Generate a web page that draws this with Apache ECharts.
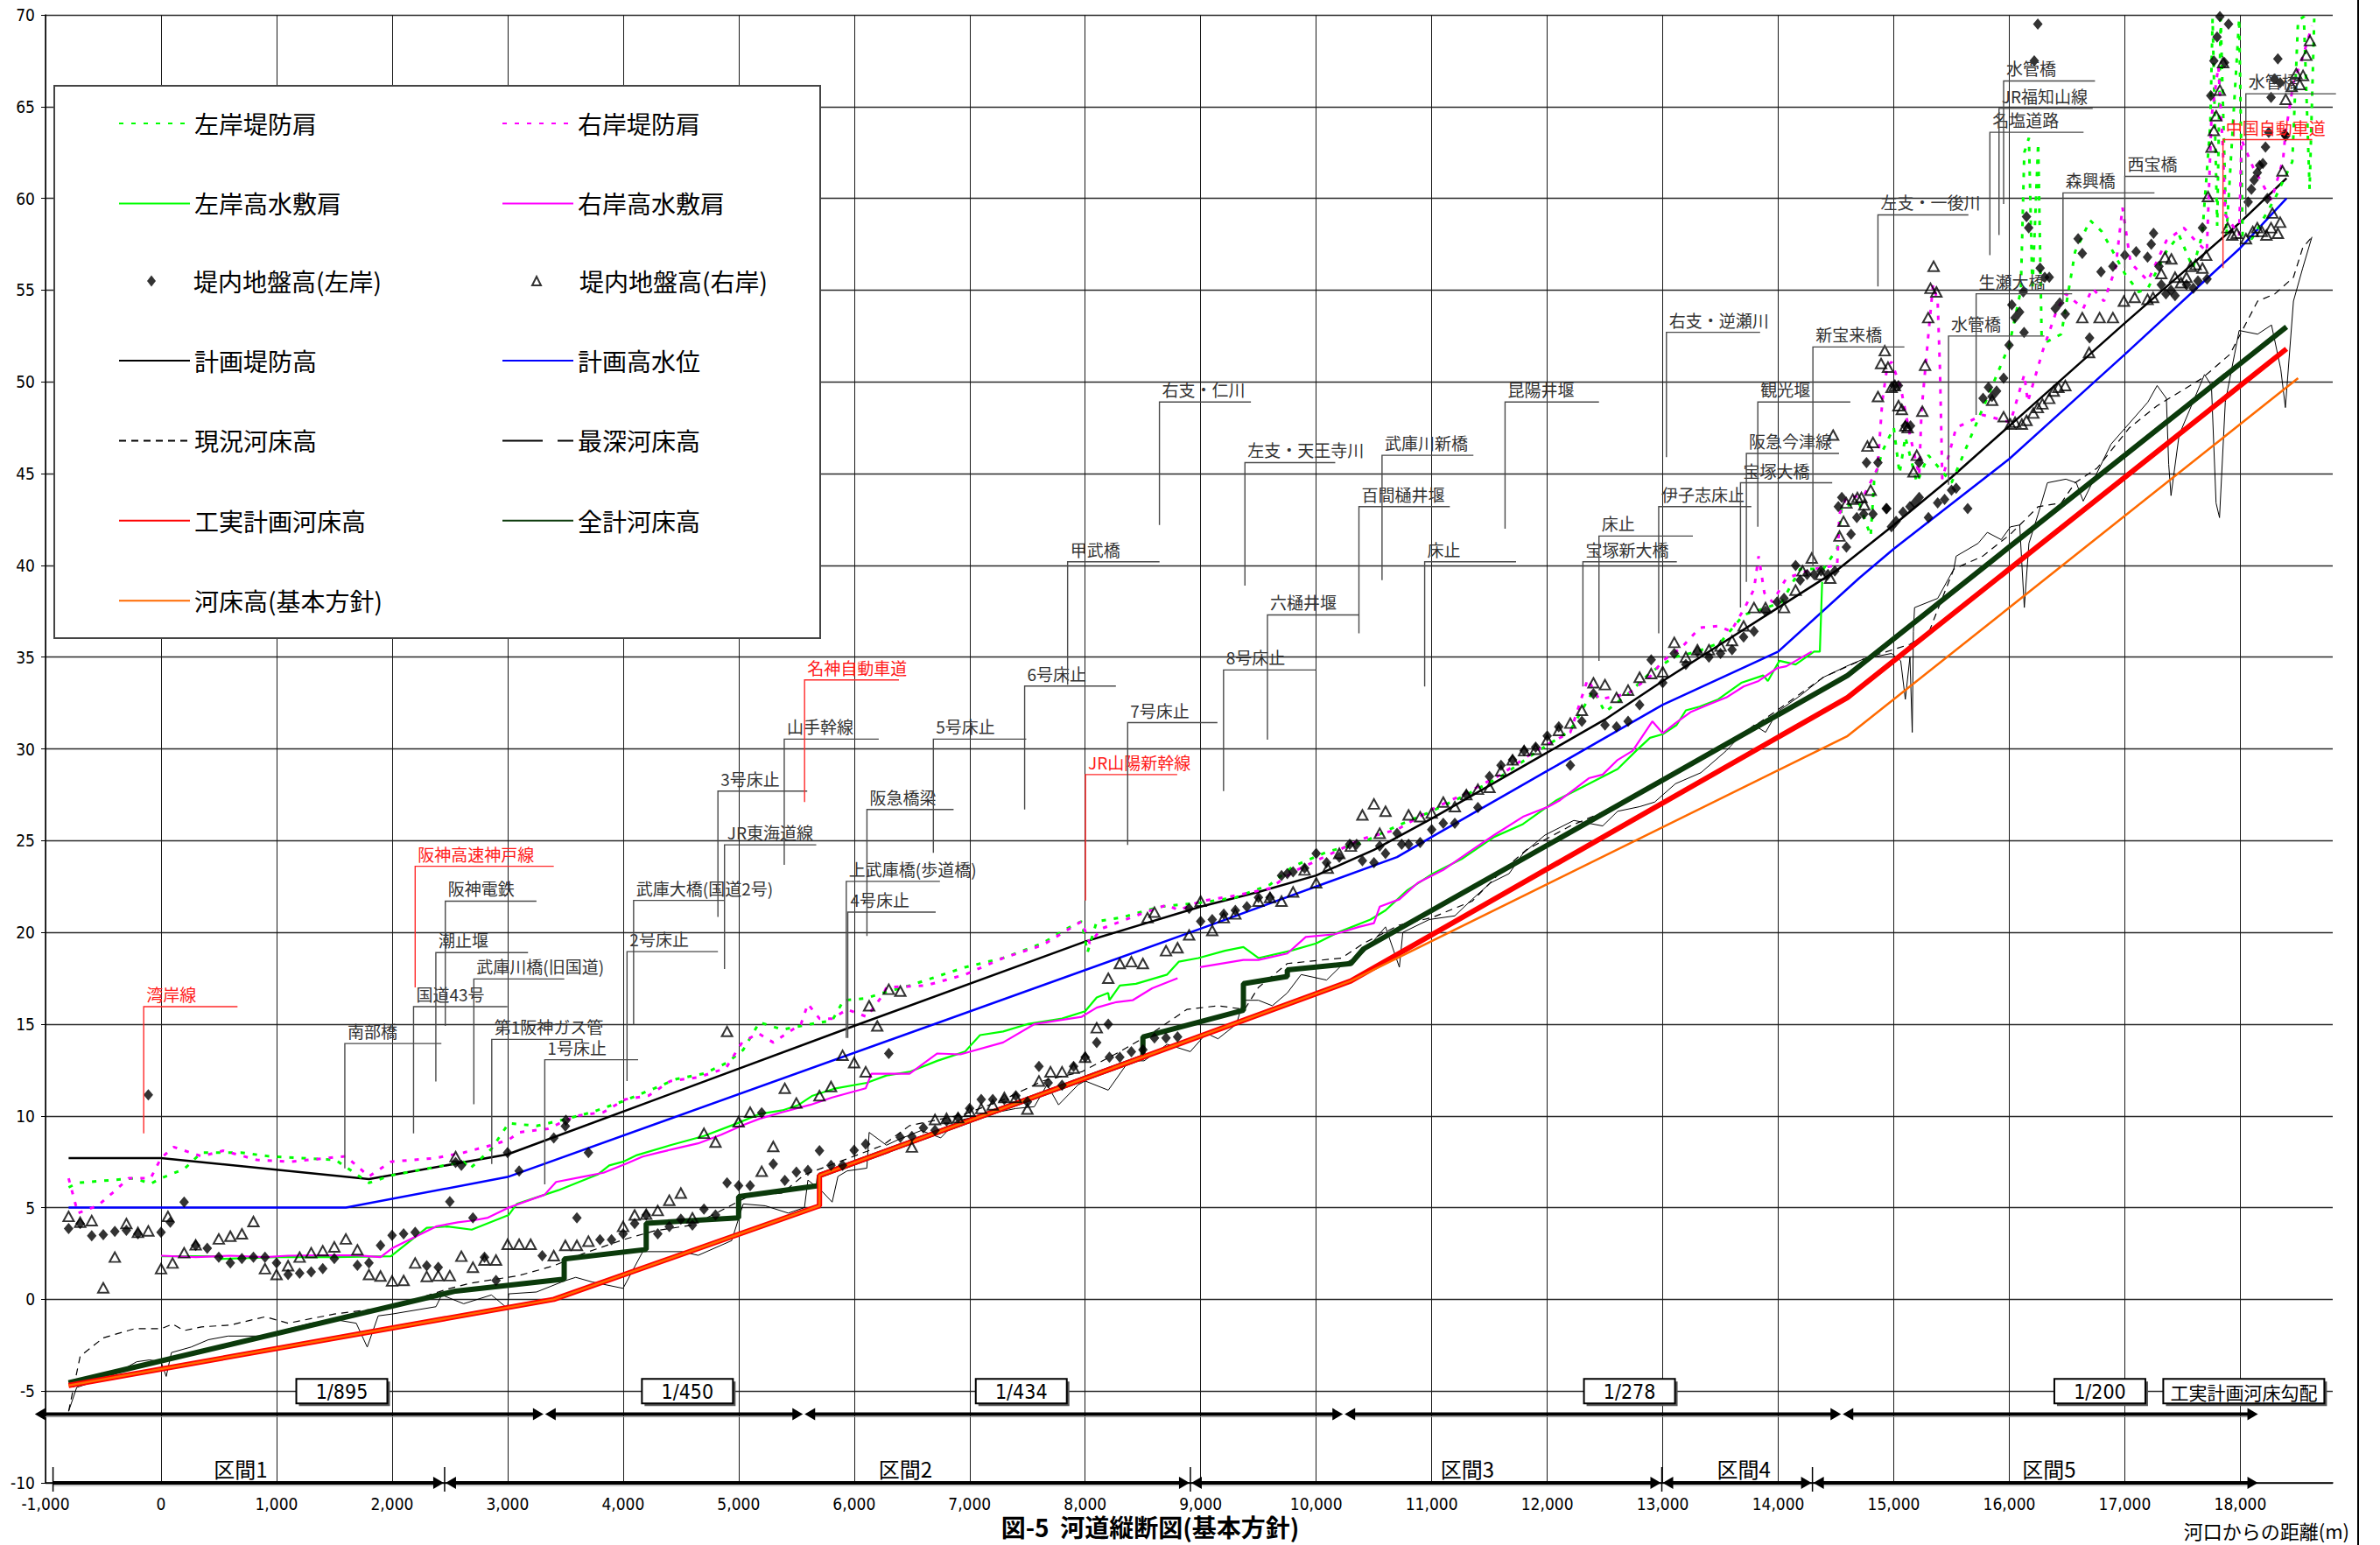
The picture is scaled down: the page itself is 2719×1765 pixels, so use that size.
<!DOCTYPE html>
<html>
<head>
<meta charset="utf-8">
<title>河道縦断図(基本方針)</title>
<script src="https://cdn.jsdelivr.net/npm/echarts@6/dist/echarts.min.js"></script>
<style>
  html, body { margin: 0; padding: 0; background: #fff; }
  #chart { width: 2719px; height: 1765px; }
</style>
</head>
<body>
<div id="chart"></div>
<script>
// ---- axis ticks ----
const xMin = -1000, xMax = 18800, xStep = 1000;
const yMin = -10, yMax = 70, yStep = 5;

// ---- 計画堤防高 ----
const planLevee = [[-800,7.7],[0,7.7],[1800,6.55],[3000,7.9],[6000,14.9],[8000,19.5],[9000,21.4],[9500,22.2],[10000,23.1],[10500,24.5],[11000,26.2],[11500,28.0],[12000,29.8],[12500,31.6],[13000,33.7],[13500,35.7],[14000,37.7],[14500,39.7],[15000,42.2],[15500,44.8],[16000,47.6],[17000,53.2],[18000,58.7],[18400,61.1]];

// ---- 計画高水位 ----
const planHWL = [[-800,5],[1600,5],[3000,6.67],[9000,20.2],[10000,22.5],[10700,24.1],[11000,25.2],[12000,28.8],[13000,32.4],[14000,35.3],[14700,39.3],[15000,40.9],[16000,45.8],[17000,51.5],[18000,57.3],[18400,60.0]];

// ---- 工実計画河床高 ----
const koujitsuBed = [[-800,-4.69],[3400,0],[5700,5.1],[5700,6.75],[10300,17.35],[14600,32.8],[18400,51.8]];

// ---- 河床高(基本方針) ----
const kihonBed = [[-800,-4.69],[3400,0],[5700,5.1],[5700,6.75],[10300,17.35],[14600,30.7],[18500,50.2]];

// ---- 全計河床高 ----
const zenkeiBed = [[-800,-4.55],[2550,0.45],[3490,1.1],[3490,2.2],[4200,2.72],[4200,4.15],[5000,4.44],[5000,5.6],[5690,6.2],[5700,6.75],[8500,13.2],[8500,14.3],[9370,15.75],[9370,17.2],[9750,17.6],[9750,17.95],[10300,18.3],[10410,19.1],[13000,28.3],[14600,34.0],[18400,53.0]];

// ---- 現況河床高 ----
const currentBed = [[-800,-6.1],[-700,-3.1],[-500,-2.1],[-230,-1.6],[0,-1.6],[100,-1.35],[200,-1.7],[350,-1.5],[600,-1.4],[900,-0.95],[1100,-1.3],[1500,-0.8],[2000,-0.4],[2480,0.56],[2670,0.87],[2860,1.06],[3100,1.3],[3400,1.83],[3640,2.46],[4000,3.25],[4270,3.73],[4600,4.05],[4800,4.68],[5090,5.63],[5380,5.8],[5570,6.8],[5940,7.66],[6250,8.4],[6480,9.47],[6960,10.1],[7300,10.9],[7630,11.9],[7970,12.4],[8300,13.5],[8600,14.6],[8880,15.8],[9150,16.0],[9380,15.8],[9500,17.0],[9750,18.3],[10220,18.6],[10410,19.4],[10720,20.4],[11000,20.8],[11350,21.7],[11600,23.3],[11820,24.5],[12200,25.8],[12610,26.9],[13080,28.5],[13600,30.4],[13990,32.1],[14390,33.9],[14740,34.9],[15140,35.7],[15300,36.3],[15520,39.8],[15770,40.5],[16010,41.7],[16250,43.2],[16450,43.4],[16570,44.5],[16760,45.3],[17040,47.5],[17280,48.7],[17670,50.2],[17910,51.5],[18000,52.6],[18150,54.4],[18300,54.8],[18460,55.7],[18540,57.3],[18620,57.9]];

// ---- 最深河床高 ----
const deepestBed = [[-800,-6.1],[-730,-4.8],[-440,-4.2],[-210,-3.4],[-100,-3.3],[0,-3.4],[45,-4.2],[90,-2.9],[260,-2.6],[410,-2.2],[580,-2.0],[870,-2.0],[1010,-1.8],[1110,-1.6],[1300,-1.3],[1500,-1.1],[1690,-1.3],[1785,-2.6],[1880,-0.9],[2000,-0.8],[2380,-0.4],[2430,0.24],[2620,-0.24],[2860,0.24],[3000,-0.5],[3010,0.3],[3250,0.4],[3490,1.0],[3590,1.2],[3730,0.95],[4000,0.6],[4170,2.6],[4510,2.6],[4650,2.4],[4940,3.2],[5040,5.2],[5230,5.1],[5430,4.7],[5570,5.0],[5600,6.5],[5720,5.9],[5810,5.3],[5860,6.7],[5940,7.0],[6110,7.15],[6130,9.1],[6280,8.4],[6380,8.7],[6580,9.2],[6750,8.8],[6890,9.73],[7160,10.1],[7400,10.4],[7560,10.5],[7670,11.7],[7770,10.6],[7940,11.7],[8000,11.9],[8200,11.4],[8380,13.0],[8510,13.0],[8710,13.9],[8910,13.5],[9050,14.5],[9150,14.2],[9310,15.0],[9370,16.3],[9500,16.3],[9620,16.0],[9750,16.7],[9870,17.7],[10090,17.4],[10220,18.2],[10410,18.9],[10600,20.3],[10720,18.1],[10750,20.0],[10980,20.7],[11200,20.9],[11350,21.8],[11510,22.7],[11670,23.2],[11790,24.3],[11980,25.3],[12230,26.1],[12480,25.8],[12610,26.6],[12800,26.85],[12930,27.1],[13110,28.1],[13330,28.7],[13550,29.9],[13670,30.7],[13790,31.3],[13890,30.9],[13990,32.0],[14190,32.9],[14390,33.9],[14590,34.5],[14740,34.9],[14980,35.2],[15060,34.8],[15100,32.7],[15140,35.0],[15160,30.9],[15170,36.4],[15180,37.7],[15380,38.2],[15520,39.8],[15540,40.5],[15730,41.2],[15810,41.8],[15930,41.4],[16010,42.1],[16090,42.2],[16130,37.7],[16170,41.2],[16250,42.8],[16330,44.5],[16490,44.7],[16580,44.5],[16640,43.5],[16880,46.6],[17200,48.9],[17280,49.8],[17360,49.1],[17380,45.5],[17400,43.8],[17470,47.1],[17690,50.4],[17750,49.8],[17790,43.4],[17820,42.6],[17870,48.9],[17950,51.5],[17990,52.8],[18150,52.6],[18270,53.1],[18350,50.7],[18390,48.6],[18460,54.4],[18540,56.2],[18620,57.9]];

// ---- 左岸高水敷肩 ----
const leftBerm = [[0,2.35],[500,2.35],[520,2.2],[1000,2.3],[1500,2.3],[1990,2.35],[2300,3.9],[2480,3.97],[2690,3.8],[3010,4.6],[3080,5.2],[3440,5.95],[3780,6.8],[3880,7.3],[4000,7.5],[4120,7.86],[4410,8.4],[4700,8.9],[4990,9.6],[5180,10.1],[5380,10.3],[5520,10.6],[5640,11.1],[5840,11.5],[6110,11.8],[6280,12.2],[6480,12.4],[6720,13.0],[6960,13.5],[7090,14.4],[7290,14.6],[7500,15.0],[7800,15.3],[8000,15.7],[8100,16.45],[8200,16.7],[8210,16.3],[8300,17.1],[8440,17.2],[8710,17.7],[8810,18.4],[8980,18.6],[9210,19.0],[9370,19.2],[9500,18.6],[9780,19.0],[10000,19.4],[10190,20.0],[10470,20.7],[10600,21.2],[10790,22.3],[11010,23.2],[11260,24.0],[11540,25.2],[11790,25.9],[12080,27.2],[12300,27.9],[12610,28.9],[12770,29.9],[12890,30.6],[13000,30.8],[13120,31.3],[13200,32.1],[13320,32.3],[13480,32.7],[13680,33.6],[13870,34.0],[13910,33.7],[14010,34.8],[14150,34.6],[14310,35.3],[14360,35.3],[14380,39.1]];

// ---- 右岸高水敷肩 ----
const rightBerm = [[0,2.38],[300,2.3],[600,2.38],[900,2.3],[1100,2.38],[1400,2.4],[1700,2.4],[1900,2.3],[2000,2.78],[2380,3.97],[2570,4.2],[2700,4.3],[2830,4.45],[3010,5.0],[3320,5.7],[3420,6.4],[3640,6.67],[3830,6.9],[4020,7.38],[4170,7.78],[4310,8.0],[4510,8.3],[4650,8.5],[4850,8.97],[5040,9.5],[5180,9.84],[5380,10.2],[5620,10.6],[5810,11.0],[6100,11.5],[6150,12.3],[6480,12.3],[6720,13.4],[6920,13.35],[7290,14.0],[7560,15.0],[7970,15.4],[8100,15.9],[8270,16.2],[8410,16.3],[8580,16.95],[8800,17.5],[8900,null],[8994,18.1],[9370,18.5],[9500,18.5],[9750,18.85],[9910,19.75],[10160,19.9],[10370,20.3],[10500,20.5],[10550,21.4],[10720,21.8],[10880,22.7],[11100,23.4],[11350,24.5],[11540,25.3],[11790,26.3],[12010,26.85],[12110,27.2],[12360,28.4],[12480,28.6],[12610,29.4],[12740,29.9],[12910,31.5],[13000,30.85],[13110,31.4],[13240,32.0],[13390,32.4],[13550,32.8],[13700,33.4],[13830,33.7],[13990,34.4],[14070,34.5],[14290,35.3]];

// ---- 左岸堤防肩 ----
const leftLevee = [[-800,6.1],[-720,6.35],[-230,6.6],[-90,6.3],[0,6.6],[200,7.1],[350,8.0],[690,8.0],[930,7.8],[1510,7.6],[1800,6.35],[1990,6.75],[2280,7.1],[2620,7.5],[2670,7.1],[2860,8.2],[3010,9.6],[3250,9.45],[3490,9.8],[3730,10.2],[4000,10.8],[4270,11.5],[4460,12.0],[4700,12.3],[4900,12.9],[5040,13.6],[5180,15.1],[5380,14.7],[5620,15.0],[5810,15.2],[5910,16.3],[6100,16.4],[6250,16.7],[6480,17.1],[6960,18.1],[7290,18.6],[7630,19.4],[7840,20.2],[7970,20.6],[8020,18.9],[8100,20.6],[8310,20.8],[8650,21.4],[8980,21.6],[9300,21.9],[9600,22.6],[9800,23.6],[10100,24.4],[10400,24.9],[10700,25.8],[11000,26.6],[11300,27.5],[11600,28.5],[11900,29.8],[12200,31.0],[12400,33.2],[12500,32.0],[12700,33.0],[12900,34.2],[13100,35.0],[13300,35.3],[13500,35.8],[13700,37.3],[13900,37.7],[14030,38.0],[14190,39.8],[14390,39.8],[14510,40.9],[14550,43.2],[14700,43.4],[14800,41.6],[14830,44.6],[14900,46.2],[15000,47.5],[15050,45.0],[15100,47.0],[15200,44.5],[15300,46.0],[15500,44.5],[15800,49.0],[16000,52.0],[16100,55.0],[16130,62.5],[16170,63.3],[16200,55.0],[16250,63.0],[16280,52.5],[16330,52.2],[16450,52.6],[16570,57.1],[16700,58.8],[16800,58.2],[16880,57.3],[17000,55.9],[17120,54.9],[17200,55.1],[17360,57.1],[17470,58.0],[17590,56.2],[17670,58.0],[17740,64.0],[17760,69.8],[17800,58.5],[17830,69.8],[17880,58.0],[17990,69.8],[18020,58.0],[18100,57.8],[18300,60.0],[18450,62.0],[18500,69.7],[18550,69.9],[18600,60.5],[18640,69.8]];

// ---- 右岸堤防肩 ----
const rightLevee = [[-800,6.6],[-720,4.7],[-550,5.1],[-420,5.8],[-280,6.6],[-90,6.6],[0,7.7],[110,8.3],[350,7.8],[540,8.1],[830,7.6],[1120,7.5],[1600,7.8],[1800,6.7],[1990,7.5],[2380,7.7],[2620,8.0],[2860,8.4],[3010,8.7],[3100,9.1],[3350,9.3],[3590,10.0],[3830,10.2],[4020,10.9],[4220,11.1],[4410,11.9],[4650,12.1],[4890,12.6],[5030,14.0],[5170,14.5],[5300,14.0],[5540,15.0],[5600,16.1],[5700,15.3],[5810,15.3],[5940,15.8],[6110,15.4],[6250,16.6],[6280,17.0],[6620,17.1],[6960,17.7],[7290,18.6],[7630,19.3],[7970,20.6],[8040,19.4],[8140,20.2],[8480,21.0],[8710,21.5],[8810,21.2],[9000,21.7],[9300,22.0],[9600,22.4],[9800,23.3],[10100,24.2],[10400,25.1],[10700,25.6],[11000,26.7],[11300,27.6],[11600,28.6],[11900,29.9],[12200,30.9],[12350,33.8],[12450,32.7],[12700,33.0],[12900,34.0],[13000,34.8],[13160,35.5],[13320,36.6],[13480,36.7],[13590,36.4],[13710,37.7],[13790,38.7],[13830,40.5],[13880,38.5],[13950,38.0],[14070,39.3],[14300,39.8],[14510,40.0],[14530,42.8],[14590,43.7],[14740,43.8],[14860,45.3],[14900,48.9],[14940,50.7],[14980,51.1],[15060,49.7],[15140,47.1],[15220,44.9],[15240,48.4],[15300,52.6],[15340,55.3],[15380,54.4],[15400,50.7],[15420,44.7],[15540,47.5],[15770,48.2],[16010,47.8],[16130,50.4],[16160,48.9],[16290,51.7],[16410,53.9],[16490,54.8],[16640,54.0],[16720,55.1],[16820,54.4],[16920,56.2],[16980,59.5],[17050,56.5],[17200,55.5],[17360,57.7],[17510,58.4],[17610,57.7],[17710,57.1],[17750,64.4],[17810,67.2],[17850,62.6],[17870,59.1],[17990,58.0],[18010,63.2],[18110,61.7],[18270,59.9],[18370,62.1],[18390,63.5],[18460,66.3],[18540,67.7],[18620,69.4]];

// ---- 堤内地盤高(左岸) ----
const groundLeft = [[-800,3.86],[-700,4.13],[-600,3.46],[-500,3.52],[-400,3.7],[-300,3.76],[-200,3.57],[-110,11.14],[0,3.65],[80,4.2],[200,5.3],[300,2.94],[400,2.78],[500,2.3],[600,1.98],[700,2.22],[800,2.3],[900,2.3],[1000,1.98],[1100,1.35],[1200,1.43],[1300,1.5],[1400,1.67],[1500,2.22],[1700,1.86],[1800,1.98],[1900,2.94],[2000,3.49],[2100,3.57],[2200,3.65],[2300,1.83],[2400,1.75],[2500,5.32],[2550,7.46],[2600,7.3],[2700,4.44],[2800,2.3],[2900,1.03],[3000,8.0],[3100,7.0],[3300,2.38],[3400,8.8],[3500,9.44],[3505,9.76],[3600,4.44],[3700,8.0],[3800,3.25],[3900,3.25],[4000,3.57],[4100,4.13],[4200,4.6],[4300,3.57],[4400,3.97],[4500,4.37],[4600,4.05],[4700,4.92],[4800,4.6],[4900,6.35],[5000,6.19],[5100,6.19],[5200,10.17],[5300,7.38],[5400,6.48],[5500,6.94],[5600,7.03],[5700,8.1],[5800,7.3],[5900,7.3],[6000,8.13],[6100,8.46],[6300,13.4],[6400,8.83],[6500,8.88],[6600,9.34],[6700,9.21],[6800,9.73],[6900,9.91],[7000,10.4],[7100,10.9],[7200,10.9],[7300,10.9],[7400,11.1],[7500,10.76],[7600,12.7],[7680,11.8],[7800,11.67],[7900,12.7],[8000,13.2],[8100,14.0],[8200,15.0],[8210,13.2],[8300,13.2],[8400,13.5],[8500,13.6],[8600,14.25],[8700,14.25],[8800,14.3],[8900,21.3],[9000,20.6],[9100,20.7],[9200,21.0],[9300,21.2],[9400,21.4],[9500,21.9],[9600,21.9],[9700,23.1],[9750,23.2],[9800,23.3],[9900,23.5],[10000,24.3],[10090,23.8],[10200,24.1],[10290,24.8],[10350,24.8],[10400,23.9],[10500,23.8],[10550,24.7],[10600,24.3],[10700,25.4],[10740,24.8],[10800,24.8],[10900,24.9],[11000,25.6],[11100,25.95],[11200,25.95],[11300,27.5],[11400,26.8],[11500,28.5],[11600,29.1],[11700,29.4],[11800,29.9],[11900,30.1],[12000,30.7],[12100,31.2],[12200,29.1],[12300,31.5],[12400,33.0],[12500,31.3],[12600,31.2],[12700,31.5],[12800,32.4],[12900,34.85],[13000,33.6],[13100,35.2],[13200,34.6],[13300,35.3],[13400,35.0],[13500,35.2],[13600,35.4],[13700,36.1],[13790,36.4],[13890,37.5],[13990,38.0],[14050,38.2],[14150,40.0],[14190,39.2],[14250,39.5],[14310,39.5],[14370,39.7],[14430,39.5],[14490,39.7],[14520,43.2],[14550,43.7],[14590,41.0],[14630,41.7],[14680,42.6],[14740,42.8],[14764,45.6],[14820,42.8],[14863,45.6],[14934,43.1],[14940,43.1],[14980,42.1],[15001,49.8],[15020,42.4],[15040,49.8],[15080,42.9],[15100,47.6],[15140,43.2],[15145,47.6],[15180,43.4],[15219,45.6],[15220,43.7],[15300,42.6],[15380,43.4],[15440,43.6],[15500,44.1],[15540,44.2],[15640,43.1],[15773,49.1],[15820,49.7],[15850,49.2],[15890,49.5],[15951,50.2],[15998,52.0],[16022,54.2],[16050,53.5],[16089,53.8],[16121,54.9],[16128,52.7],[16149,59.0],[16168,58.4],[16216,67.5],[16247,69.5],[16267,56.2],[16307,55.7],[16346,55.7],[16398,54.0],[16437,54.3],[16485,53.7],[16596,57.8],[16632,57.0],[16695,52.4],[16794,56.0],[16897,56.3],[17000,56.9],[17098,57.1],[17197,56.8],[17229,57.5],[17249,58.1],[17296,56.3],[17316,55.3],[17356,54.8],[17400,55.0],[17435,54.7],[17534,55.3],[17593,55.1],[17633,55.5],[17672,58.4],[17712,55.6],[17744,65.6],[17771,67.5],[17799,68.8],[17823,69.9],[17863,67.4],[17898,69.5],[18068,59.8],[18096,60.5],[18119,61.0],[18147,61.4],[18167,61.8],[18195,61.9],[18218,62.8],[18234,60.0],[18246,63.6],[18266,65.5],[18294,66.5],[18325,67.6],[18345,66.3],[18385,63.5],[18393,63.4]];

// ---- 堤内地盤高(右岸) ----
const groundRight = [[-800,4.52],[-700,4.2],[-600,4.29],[-500,0.63],[-400,2.3],[-300,4.13],[-200,3.65],[-110,3.73],[0,1.67],[60,4.52],[100,1.98],[200,2.54],[300,2.97],[500,3.29],[600,3.44],[700,3.57],[800,4.24],[900,1.67],[1000,1.35],[1100,1.83],[1200,2.3],[1300,2.54],[1400,2.65],[1500,2.86],[1600,3.29],[1700,2.7],[1800,1.35],[1900,1.27],[2000,1.0],[2100,1.03],[2200,1.98],[2300,1.25],[2400,1.29],[2500,1.29],[2550,7.78],[2600,2.35],[2700,1.75],[2800,2.14],[2900,2.14],[3000,3.0],[3100,3.0],[3200,3.0],[3400,2.38],[3500,2.94],[3600,2.94],[3700,3.17],[4000,3.97],[4100,4.6],[4200,4.64],[4300,4.84],[4400,5.4],[4500,5.79],[4600,4.44],[4700,9.05],[4800,8.57],[4900,14.6],[5000,9.68],[5100,10.2],[5200,6.98],[5300,8.33],[5400,11.5],[5500,10.7],[5700,11.1],[5800,11.6],[5900,13.3],[6000,12.9],[6100,12.4],[6130,16.0],[6200,14.9],[6300,16.9],[6400,16.8],[6500,8.3],[6700,9.8],[6800,9.86],[6900,9.9],[7000,10.25],[7100,10.4],[7200,10.6],[7300,11.0],[7400,11.0],[7500,10.37],[7600,11.9],[7700,12.4],[7800,12.4],[7900,12.6],[8000,13.2],[8100,14.8],[8200,17.5],[8300,18.3],[8400,18.4],[8500,18.3],[8540,20.8],[8600,21.1],[8700,19.0],[8800,19.16],[8900,19.86],[9000,21.7],[9100,20.1],[9200,20.8],[9300,21.0],[9500,21.7],[9600,21.9],[9700,21.7],[9800,22.2],[9900,23.4],[10000,22.7],[10100,23.5],[10200,24.3],[10300,24.7],[10400,26.4],[10500,27.0],[10550,25.4],[10600,26.6],[10800,26.4],[10900,26.3],[11000,26.5],[11100,27.1],[11200,26.85],[11300,27.5],[11400,27.8],[11500,27.9],[11600,28.8],[11700,29.4],[11800,29.9],[11900,29.98],[12000,30.5],[12100,31.0],[12200,31.4],[12300,32.1],[12400,33.6],[12500,33.5],[12600,32.8],[12700,33.2],[12800,33.9],[12900,34.1],[13000,34.2],[13100,35.8],[13200,35.0],[13300,35.4],[13400,35.4],[13500,35.6],[13600,35.9],[13700,36.7],[13790,37.7],[13890,37.7],[14050,37.7],[14150,38.65],[14210,39.7],[14290,40.4],[14370,39.5],[14450,39.3],[14475,47.1],[14530,41.6],[14565,42.4],[14590,43.4],[14645,43.6],[14685,43.7],[14720,43.7],[14745,43.3],[14772,46.5],[14800,44.1],[14820,46.7],[14863,49.2],[14890,51.0],[14922,51.7],[14950,50.8],[14981,49.7],[15010,49.8],[15041,48.7],[15070,48.5],[15100,47.6],[15120,47.5],[15171,45.1],[15199,46.0],[15247,48.4],[15271,50.9],[15298,53.5],[15318,55.1],[15345,56.3],[15369,54.9],[15852,49.0],[15951,48.1],[16010,47.7],[16050,47.8],[16109,47.7],[16149,47.9],[16208,48.3],[16247,48.6],[16287,48.8],[16346,49.1],[16385,49.5],[16425,49.7],[16485,49.8],[16632,53.5],[16691,51.6],[16782,53.5],[16897,53.5],[16992,54.4],[17086,54.6],[17197,54.5],[17245,54.6],[17316,55.9],[17348,56.8],[17403,56.7],[17435,55.7],[17486,55.4],[17534,55.7],[17573,56.3],[17613,56.4],[17672,56.2],[17704,56.9],[17720,60.1],[17751,62.8],[17771,63.7],[17791,64.5],[17823,65.9],[17851,67.4],[17890,58.4],[17930,58.0],[17969,58.1],[18049,57.8],[18108,58.2],[18147,58.4],[18187,58.2],[18226,58.0],[18266,58.4],[18278,59.2],[18325,58.1],[18345,58.7],[18365,61.5],[18393,65.4],[18444,66.1],[18484,66.8],[18515,66.2],[18543,66.7],[18571,67.8],[18603,68.6]];

// ---- 構造物・支川の注記: [名称, 引出し線の距離, 横線の標高, 引出し線下端の標高, 横線の終点距離, 赤字] ----
const structureNotes = [
  ['湾岸線', -150, 15.95, 9.05, 662, 1],
  ['南部橋', 1591, 13.94, 7.14, 2427, 0],
  ['国道43号', 2186, 15.95, 9.05, 2998, 0],
  ['阪神高速神戸線', 2200, 23.6, 17.0, 3400, 1],
  ['阪神電鉄', 2461, 21.7, 14.9, 3250, 0],
  ['潮止堰', 2379, 18.9, 11.87, 3177, 0],
  ['武庫川橋(旧国道)', 2708, 17.46, 10.63, 3491, 0],
  ['第1阪神ガス管', 2863, 14.17, 7.38, 3651, 0],
  ['1号床止', 3322, 13.06, 6.27, 4130, 0],
  ['2号床止', 4034, 18.95, 11.9, 4821, 0],
  ['武庫大橋(国道2号)', 4091, 21.74, 14.97, 4878, 0],
  ['3号床止', 4821, 27.7, 20.84, 5594, 0],
  ['JR東海道線', 4878, 24.77, 18.0, 5672, 0],
  ['山手幹線', 5395, 30.53, 23.68, 6213, 0],
  ['名神自動車道', 5571, 33.76, 27.1, 6388, 1],
  ['阪急橋梁', 6111, 26.7, 19.8, 6861, 0],
  ['上武庫橋(歩道橋)', 5932, 22.78, 14.25, 6743, 0],
  ['4号床止', 5945, 21.1, 14.25, 6706, 0],
  ['5号床止', 6686, 30.53, 24.33, 7490, 0],
  ['6号床止', 7476, 33.42, 26.7, 8266, 0],
  ['甲武橋', 7848, 40.2, 33.5, 8644, 0],
  ['JR山陽新幹線', 8003, 28.6, 21.74, 8797, 1],
  ['7号床止', 8368, 31.43, 24.77, 9145, 0],
  ['右支・仁川', 8643, 48.9, 42.2, 9435, 0],
  ['8号床止', 9198, 34.3, 27.7, 10000, 0],
  ['左支・天王寺川', 9383, 45.6, 38.9, 10165, 0],
  ['六樋井堰', 9578, 37.3, 30.5, 10370, 0],
  ['百間樋井堰', 10370, 43.2, 36.3, 11157, 0],
  ['武庫川新橋', 10570, 46.0, 39.2, 11361, 0],
  ['床止', 10939, 40.2, 33.4, 11730, 0],
  ['昆陽井堰', 11635, 48.9, 42.0, 12448, 0],
  ['宝塚新大橋', 12309, 40.2, 33.4, 13122, 0],
  ['床止', 12448, 41.6, 34.8, 13261, 0],
  ['伊子志床止', 12965, 43.2, 36.3, 13767, 0],
  ['右支・逆瀬川', 13032, 52.7, 45.9, 13843, 0],
  ['宝塚大橋', 13673, 44.5, 37.7, 14467, 0],
  ['阪急今津線', 13724, 46.1, 39.1, 14526, 0],
  ['観光堰', 13823, 48.9, 42.1, 14624, 0],
  ['新宝来橋', 14300, 51.9, 40.0, 15092, 0],
  ['左支・一後川', 14863, 59.1, 55.2, 15646, 0],
  ['水管橋', 15474, 52.5, 44.4, 16304, 0],
  ['生瀬大橋', 15713, 54.8, 48.2, 16544, 0],
  ['名塩道路', 15832, 63.6, 56.9, 16643, 0],
  ['JR福知山線', 15911, 64.9, 58.0, 16722, 0],
  ['水管橋', 15951, 66.4, 59.7, 16742, 0],
  ['森興橋', 16465, 60.3, 54.4, 17257, 0],
  ['西宝橋', 17000, 61.2, 56.2, 17811, 0],
  ['中国自動車道', 17850, 63.2, 56.2, 18622, 1],
  ['水管橋', 18048, 65.7, 59.1, 18828, 0]
];

// ---- 工実計画河床勾配 ----
const slopeLabels = ['1/895', '1/450', '1/434', '1/278', '1/200', '工実計画河床勾配'];
const slopeLabelX = [1565, 4557, 7447, 12712, 16784, 18030];
const slopeBounds = [-1100, 3318, 5564, 10239, 14551, 18160];

// ---- 区間 ----
const sectionNames = ['区間1', '区間2', '区間3', '区間4', '区間5'];
const sectionLabelX = [690, 6444, 11309, 13702, 16345];
const sectionBounds = [-935, 2455, 8911, 12992, 14296, 18160];

const JP = "'Noto Sans CJK JP', 'Noto Sans', sans-serif";
const NARROW = "'Liberation Sans Narrow', 'DejaVu Sans Condensed', 'Liberation Sans', sans-serif";

const chart = echarts.init(document.getElementById('chart'), null, { renderer: 'svg', width: 2719, height: 1765 });

function lineSeries(name, data, color, width, type, z) {
  return {
    name, type: 'line', data, symbol: 'none', silent: true, z: z || 2,
    connectNulls: false,
    lineStyle: { color, width, type: type || 'solid', cap: 'butt' },
    itemStyle: { color }
  };
}

// 注記: 引出し線と名称
function renderNote(params, api) {
  const n = structureNotes[params.dataIndex];
  const bottom = api.coord([api.value(0), api.value(2)]);
  const corner = api.coord([api.value(0), api.value(1)]);
  const end = api.coord([api.value(3), api.value(1)]);
  const red = api.value(4) === 1;
  return {
    type: 'group',
    children: [
      { type: 'polyline', shape: { points: [bottom, corner, end] },
        style: { stroke: red ? '#ff2a2a' : '#4a4a4a', lineWidth: 1.4, fill: 'none' } },
      { type: 'text', x: corner[0] + 3, y: corner[1] - 5,
        style: { text: n[0], fill: red ? '#ff1a1a' : '#333', font: '19px ' + JP,
                 align: 'left', verticalAlign: 'bottom' } }
    ]
  };
}

// 勾配ラベルの枠
function renderSlopeBox(params, api) {
  const label = slopeLabels[params.dataIndex];
  const c = api.coord([api.value(0), api.value(1)]);
  const w = label.length > 5 ? 184 : 104, h = 28;
  const x = c[0] - w / 2, y = c[1] - h / 2;
  return {
    type: 'group',
    children: [
      { type: 'rect', shape: { x: x + 3, y: y + 3, width: w, height: h }, style: { fill: '#555' } },
      { type: 'rect', shape: { x, y, width: w, height: h }, style: { fill: '#fff', stroke: '#000', lineWidth: 2 } },
      { type: 'text', x: c[0], y: c[1] + 1,
        style: { text: label, fill: '#000', font: (label.length > 5 ? '21px ' + JP : '23px ' + NARROW),
                 align: 'center', verticalAlign: 'middle' } }
    ]
  };
}

// 矢印: [始点, 終点, 標高, 行(0:勾配 1:区間), 先頭, 末尾, 番号]
function renderArrow(params, api) {
  const x1 = api.value(0), x2 = api.value(1), yv = api.value(2);
  const row = api.value(3), first = api.value(4) === 1, last = api.value(5) === 1, idx = api.value(6);
  const a = api.coord([x1, yv]), b = api.coord([x2, yv]);
  const L = 12, H = 7;
  const ch = [];
  const leftHead = !(row === 1 && first);
  ch.push({ type: 'line', shape: { x1: a[0] + (leftHead ? L - 1 : 0), y1: a[1], x2: b[0] - L + 1, y2: b[1] },
            style: { stroke: '#000', lineWidth: 4 } });
  ch.push({ type: 'line', shape: { x1: a[0] + (leftHead ? L : 0), y1: a[1] + 3, x2: b[0] - L, y2: b[1] + 3 },
            style: { stroke: '#999', lineWidth: 1 } });
  ch.push({ type: 'polygon', shape: { points: [[b[0] - 1, b[1]], [b[0] - 1 - L, b[1] - H], [b[0] - 1 - L, b[1] + H]] },
            style: { fill: '#000' } });
  if (leftHead) {
    ch.push({ type: 'polygon', shape: { points: [[a[0] + 1, a[1]], [a[0] + 1 + L, a[1] - H], [a[0] + 1 + L, a[1] + H]] },
              style: { fill: '#000' } });
  }
  if (row === 1) {
    if (first) ch.push({ type: 'line', shape: { x1: a[0], y1: a[1] - 18, x2: a[0], y2: a[1] + 10 }, style: { stroke: '#000', lineWidth: 1.5 } });
    if (!last) ch.push({ type: 'line', shape: { x1: b[0], y1: b[1] - 18, x2: b[0], y2: b[1] + 10 }, style: { stroke: '#000', lineWidth: 1.5 } });
    const lp = api.coord([sectionLabelX[idx], yv]);
    ch.push({ type: 'text', x: lp[0], y: lp[1] - 5,
              style: { text: sectionNames[idx], fill: '#000', font: '24px ' + JP, align: 'center', verticalAlign: 'bottom' } });
  }
  return { type: 'group', children: ch };
}

const arrowData = [];
for (let i = 0; i < slopeBounds.length - 1; i++) {
  arrowData.push([slopeBounds[i], slopeBounds[i + 1], -6.26, 0, i === 0 ? 1 : 0, i === slopeBounds.length - 2 ? 1 : 0, i]);
}
for (let i = 0; i < sectionBounds.length - 1; i++) {
  arrowData.push([sectionBounds[i], sectionBounds[i + 1], -10, 1, i === 0 ? 1 : 0, i === sectionBounds.length - 2 ? 1 : 0, i]);
}

// 凡例: 2列 x 7行 (行間 約90px)
const ROW0 = 122, ROW_STEP = 90.2, ITEM_H = 26.8;
const rowTop = k => Math.round(ROW0 + ROW_STEP * k);
const lineItem = (name, extra) => Object.assign({ name, itemStyle: { opacity: 0 } }, extra || {});

function legendBlock(left, row, items, opts) {
  return Object.assign({
    orient: 'vertical', left, top: rowTop(row), itemWidth: 81, itemHeight: 14,
    itemGap: ROW_STEP - ITEM_H, selectedMode: false, z: 20,
    textStyle: { fontSize: 28, fontFamily: JP, color: '#000', lineHeight: 26 },
    data: items
  }, opts || {});
}

const option = {
  animation: false,
  backgroundColor: '#fff',
  grid: { left: 52, right: 54, top: 17, bottom: 71, containLabel: false },
  xAxis: {
    type: 'value', min: xMin, max: xMax, interval: xStep,
    axisLine: { show: true, onZero: false, lineStyle: { color: '#000', width: 1.5 } },
    axisTick: { show: false },
    axisLabel: { showMaxLabel: false, margin: 14, color: '#000', fontSize: 19, fontFamily: NARROW,
                 formatter: v => v.toLocaleString('en-US') },
    splitLine: { show: true, showMaxLine: false, lineStyle: { color: '#1a1a1a', width: 1 } }
  },
  yAxis: {
    type: 'value', min: yMin, max: yMax, interval: yStep,
    axisLine: { show: true, onZero: false, lineStyle: { color: '#000', width: 1.5 } },
    axisTick: { show: true, length: 5, lineStyle: { color: '#000' } },
    axisLabel: { margin: 12, color: '#000', fontSize: 19, fontFamily: NARROW },
    splitLine: { show: true, lineStyle: { color: '#2a2a2a', width: 1.3 } }
  },
  legend: [
    legendBlock(130, 0, [lineItem('左岸堤防肩'), lineItem('左岸高水敷肩')]),
    legendBlock(130, 3, [lineItem('計画堤防高'), lineItem('現況河床高'), lineItem('工実計画河床高'), lineItem('河床高(基本方針)')]),
    legendBlock(163, 2, ['堤内地盤高(左岸)'], {
      itemWidth: 10, itemHeight: 13,
      textStyle: { fontSize: 28, fontFamily: JP, color: '#000', lineHeight: 26, padding: [0, 0, 0, 38] }
    }),
    legendBlock(568, 0, [lineItem('右岸堤防肩'), lineItem('右岸高水敷肩')]),
    legendBlock(568, 3, [lineItem('計画高水位'), lineItem('最深河床高', { lineStyle: { type: [46, 17] } }), lineItem('全計河床高')]),
    legendBlock(602, 2, ['堤内地盤高(右岸)'], {
      itemWidth: 10, itemHeight: 10,
      textStyle: { fontSize: 28, fontFamily: JP, color: '#000', lineHeight: 26, padding: [0, 0, 0, 39] }
    })
  ],
  graphic: [
    { type: 'rect', left: 61, top: 97, z: 15, shape: { width: 875, height: 631 },
      style: { fill: '#fff', stroke: '#444', lineWidth: 2 } },
    { type: 'line', z: 15, shape: { x1: 2694, y1: 0, x2: 2694, y2: 1765 }, style: { stroke: '#000', lineWidth: 2 } },
    { type: 'text', z: 15, x: 1314, y: 1744,
      style: { text: '図-5  河道縦断図(基本方針)', font: 'bold 28px ' + JP, fill: '#000', align: 'center', verticalAlign: 'middle' } },
    { type: 'text', z: 15, x: 2684, y: 1748,
      style: { text: '河口からの距離(m)', font: '22px ' + JP, fill: '#000', align: 'right', verticalAlign: 'middle' } }
  ],
  series: [
    lineSeries('最深河床高', deepestBed, '#000', 1, 'solid', 2),
    lineSeries('現況河床高', currentBed, '#000', 1.2, [8, 6], 2),
    lineSeries('全計河床高', zenkeiBed, '#0b3a0b', 6, 'solid', 3),
    lineSeries('工実計画河床高', koujitsuBed, '#ff0000', 6, 'solid', 3),
    lineSeries('河床高(基本方針)', kihonBed, '#ff6a00', 2.5, 'solid', 3),
    lineSeries('計画高水位', planHWL, '#0000ff', 2.5, 'solid', 3),
    lineSeries('計画堤防高', planLevee, '#000', 2.5, 'solid', 3),
    lineSeries('左岸高水敷肩', leftBerm, '#00ff00', 2.2, 'solid', 3),
    lineSeries('右岸高水敷肩', rightBerm, '#ff00ff', 2.2, 'solid', 3),
    lineSeries('左岸堤防肩', leftLevee, '#00ff00', 3, [5, 9], 4),
    lineSeries('右岸堤防肩', rightLevee, '#ff00ff', 3, [5, 9], 4),
    {
      name: '堤内地盤高(左岸)', type: 'scatter', data: groundLeft, symbol: 'diamond', symbolSize: [11, 13],
      itemStyle: { color: '#000' }, z: 5, silent: true
    },
    {
      name: '堤内地盤高(右岸)', type: 'scatter', data: groundRight, symbol: 'triangle', symbolSize: [12, 11],
      itemStyle: { color: 'rgba(255,255,255,0)', borderColor: '#000', borderWidth: 2 }, z: 5, silent: true
    },
    {
      type: 'custom', name: 'notes', renderItem: renderNote, silent: true, z: 6, clip: false,
      data: structureNotes.map(n => [n[1], n[2], n[3], n[4], n[5]])
    },
    {
      type: 'custom', name: 'slopes', renderItem: renderSlopeBox, silent: true, z: 6, clip: false,
      data: slopeLabelX.map(x => [x, -5])
    },
    {
      type: 'custom', name: 'sections', renderItem: renderArrow, silent: true, z: 6, clip: false,
      data: arrowData
    }
  ]
};

chart.setOption(option);
</script>
</body>
</html>
